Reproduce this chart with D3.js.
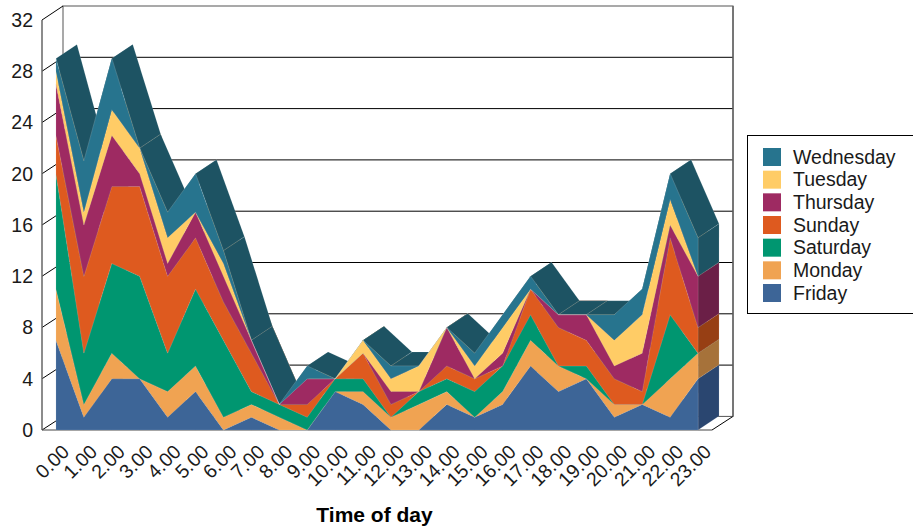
<!DOCTYPE html>
<html>
<head>
<meta charset="utf-8">
<script src="https://cdn.jsdelivr.net/npm/d3@7"></script>
<style>
  html, body { margin: 0; padding: 0; background: #fff; overflow: hidden; }
  text { font-family: "Liberation Sans", Arial, sans-serif; fill: #1a1a1a; }
</style>
</head>
<body>
<svg id="chart" width="913" height="528"></svg>
<script>
const hours = ["0.00","1.00","2.00","3.00","4.00","5.00","6.00","7.00","8.00","9.00","10.00","11.00",
  "12.00","13.00","14.00","15.00","16.00","17.00","18.00","19.00","20.00","21.00","22.00","23.00"];
const friday    = [7,1,4,4,1,3,0,1,0,0,3,2,0,0,2,1,2,5,3,4,1,2,1,4];
const monday    = [4,1,2,0,2,2,1,1,1,0,0,1,1,2,1,0,1,2,2,0,1,0,3,2];
const saturday  = [9,4,7,8,3,6,6,1,1,1,1,1,0,1,1,2,2,2,0,1,0,0,5,0];
const sunday    = [3,6,6,7,6,4,3,3,0,1,0,2,1,0,1,1,0,2,3,2,2,1,6,2];
const thursday  = [4,4,4,1,1,2,2,1,0,2,0,0,1,0,3,0,1,0,1,2,1,3,1,4];
const tuesday   = [1,1,2,2,2,0,1,0,0,0,0,1,1,2,0,1,2,0,0,0,2,3,2,0];
const wednesday = [1,4,4,0,2,3,1,0,0,1,0,0,1,0,0,1,1,1,0,0,2,2,2,3];

const dayNames = ["Friday","Monday","Saturday","Sunday","Thursday","Tuesday","Wednesday"];
const dayValues = [friday, monday, saturday, sunday, thursday, tuesday, wednesday];
const frontColors = ["#3d6597","#f0a352","#009670","#de5a1f","#9e2a62","#ffcc66","#27748e"];
const sideColors  = ["#2a4670","#a6723a","#00684e","#973f14","#6b1f47","#b28e47","#1d5363"];
const yTicks = [0,4,8,12,16,20,24,28,32];

// 3d offset of the back wall
const depthX = 21, depthY = -14;
const plotLeft = 42, plotRight = 712, plotBottom = 430, plotTop = 20;

const svg = d3.select("#chart");
const x = d3.scalePoint().domain(hours).range([plotLeft, plotRight]).padding(0.5);
const y = d3.scaleLinear().domain([0, 32]).range([plotBottom, plotTop]);
// gridlines sit on the back wall
const yBack = d3.scaleLinear().domain([0, 32]).range([416.4, 6]);

const rows = hours.map((h, i) => {
  const row = { hour: h };
  dayNames.forEach((d, k) => { row[d] = dayValues[k][i]; });
  return row;
});
const layers = d3.stack().keys(dayNames)(rows);

// walls and floor
const walls = svg.append("g").attr("fill", "none");
walls.append("rect")
  .attr("x", plotLeft + depthX).attr("y", yBack(32))
  .attr("width", plotRight - plotLeft).attr("height", yBack(0) - yBack(32))
  .attr("stroke", "#555");
walls.selectAll("line.grid").data(yTicks.filter(v => v > 0 && v < 32)).join("line")
  .attr("class", "grid")
  .attr("x1", plotLeft + depthX).attr("x2", plotRight + depthX)
  .attr("y1", d => yBack(d)).attr("y2", d => yBack(d))
  .attr("stroke", "#000");
walls.selectAll("line.side").data(yTicks).join("line")
  .attr("class", "side")
  .attr("x1", plotLeft).attr("x2", plotLeft + depthX)
  .attr("y1", d => y(d)).attr("y2", d => yBack(d))
  .attr("stroke", "#000");
walls.append("line").attr("x1", plotLeft).attr("x2", plotLeft)
  .attr("y1", plotTop).attr("y2", plotBottom).attr("stroke", "#666").attr("stroke-width", 1.5);
walls.append("line").attr("x1", plotRight).attr("x2", plotRight + depthX)
  .attr("y1", plotBottom).attr("y2", yBack(0)).attr("stroke", "#000");
walls.append("line").attr("x1", plotRight + depthX).attr("x2", plotRight + depthX)
  .attr("y1", yBack(32)).attr("y2", yBack(0)).attr("stroke", "#666").attr("stroke-width", 1.5);
walls.append("line").attr("x1", plotLeft).attr("x2", plotRight)
  .attr("y1", plotBottom).attr("y2", plotBottom).attr("stroke", "#444").attr("stroke-width", 1.2);

const seam = "rgba(255,255,255,0.22)";
const poly = d3.line();

// top surfaces, lower layers first
const tops = svg.append("g");
layers.forEach((layer, k) => {
  for (let i = 0; i < hours.length - 1; i++) {
    const x0 = x(hours[i]), x1 = x(hours[i + 1]);
    const y0 = y(layer[i][1]), y1 = y(layer[i + 1][1]);
    tops.append("path")
      .attr("d", poly([[x0, y0], [x1, y1], [x1 + depthX, y1 + depthY], [x0 + depthX, y0 + depthY]]) + "Z")
      .attr("fill", sideColors[k])
      .attr("stroke", seam).attr("stroke-width", 0.5);
  }
});

// side panel at the last hour
const last = hours.length - 1;
const xLast = x(hours[last]);
svg.append("g").selectAll("path").data(layers.filter(l => l[last][1] > l[last][0])).join("path")
  .attr("d", l => poly([[xLast, y(l[last][0])], [xLast, y(l[last][1])],
    [xLast + depthX, y(l[last][1]) + depthY], [xLast + depthX, y(l[last][0]) + depthY]]) + "Z")
  .attr("fill", l => sideColors[l.index])
  .attr("stroke", seam).attr("stroke-width", 0.5);

// front faces
const area = d3.area()
  .x(d => x(d.data.hour))
  .y0(d => y(d[0]))
  .y1(d => y(d[1]));
svg.append("g").selectAll("path").data(layers).join("path")
  .attr("d", area)
  .attr("fill", l => frontColors[l.index])
  .attr("stroke", seam).attr("stroke-width", 0.5);

// axes labels
const yAxis = svg.append("g").attr("transform", `translate(${plotLeft},0)`)
  .call(d3.axisLeft(y).tickValues(yTicks).tickSize(0).tickPadding(9));
yAxis.select(".domain").remove();
yAxis.selectAll("text").style("font-size", "19.5px").attr("fill", "#1a1a1a");

const xAxis = svg.append("g").attr("transform", `translate(0,${plotBottom})`)
  .call(d3.axisBottom(x).tickSize(0));
xAxis.select(".domain").remove();
xAxis.selectAll("text")
  .style("font-size", "19.5px")
  .attr("fill", "#1a1a1a")
  .attr("text-anchor", "end")
  .attr("dy", 0)
  .attr("y", 0)
  .attr("transform", "translate(14,23) rotate(-45)");

svg.append("text")
  .attr("x", 374.5).attr("y", 522)
  .attr("text-anchor", "middle")
  .style("font-size", "21px").style("font-weight", "bold")
  .style("fill", "#000")
  .text("Time of day");

// legend, cut off by the right edge like the source
svg.append("rect")
  .attr("x", 747.5).attr("y", 135.5).attr("width", 200).attr("height", 178)
  .attr("fill", "#fff").attr("stroke", "#000");
const legendY = d3.scalePoint().domain(dayNames.slice().reverse()).range([148, 284]);
const legend = svg.append("g").selectAll("g").data(dayNames).join("g")
  .attr("transform", d => `translate(763,${legendY(d)})`);
legend.append("rect")
  .attr("width", 18).attr("height", 18)
  .attr("fill", (d, i) => frontColors[i]);
legend.append("text")
  .attr("x", 30).attr("y", 15.5)
  .style("font-size", "19.5px")
  .text(d => d);
</script>
</body>
</html>
